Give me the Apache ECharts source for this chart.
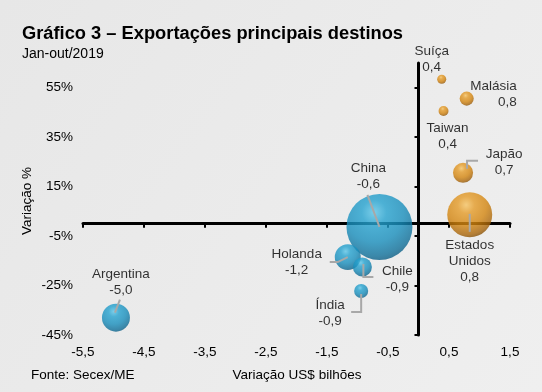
<!DOCTYPE html>
<html><head><meta charset="utf-8">
<script src="https://cdn.jsdelivr.net/npm/echarts@6/dist/echarts.min.js"></script>
<style>html,body{margin:0;padding:0;background:#ebebeb}#c{width:542px;height:392px}</style>
</head><body><div id="c"></div>
<script>
// ---- data ----
const countries   = ['Suíça','Malásia','Taiwan','Japão','Estados Unidos','China','Holanda','Chile','Índia','Argentina'];
const variationUSD = [0.38, 0.79, 0.41, 0.73, 0.84, -0.64, -1.16, -0.92, -0.94, -4.96]; // US$ bilhões
const variationPct = [58.4, 50.6, 45.6, 20.6, 3.6, -1.3, -13.5, -17.5, -27.2, -38.0];  // %
const exportsBn    = [1.0, 2.4, 1.2, 4.9, 24.6, 53.0, 8.2, 4.4, 2.4, 9.5];            // bubble size
const xTickValues  = [-5.5, -4.5, -3.5, -2.5, -1.5, -0.5, 0.5, 1.5];
const yTickValues  = [-45, -25, -5, 15, 35, 55];

// ---- layout / style (pixels) ----
const FONT = '"Liberation Sans", Arial, sans-serif';
const labelOffsets = {
  'Suíça':[-10,-20], 'Malásia':[50,-4], 'Taiwan':[4,25], 'Japão':[41,-11],
  'Estados Unidos':[0,46], 'China':[-11,-51], 'Holanda':[-51,5], 'Chile':[35,12],
  'Índia':[-31,22], 'Argentina':[5,-35]
};
const leaderPaths = {
  'China':[[-12,-32],[0,0]],
  'Holanda':[[-18,5],[-10,5],[0,0]],
  'Chile':[[1,-3],[1,10],[11,10]],
  'Índia':[[0,3],[0,21],[-10,21]],
  'Japão':[[4,-4],[4,-12],[15,-12]],
  'Estados Unidos':[[0,-1],[0,17]],
  'Argentina':[[4,-18],[-1,-5]]
};
const blueBall = {type:'radial',x:0.42,y:0.28,r:0.75,colorStops:[
  {offset:0,color:'#5ec6e8'},{offset:0.25,color:'#25a2cf'},{offset:0.6,color:'#188ebc'},{offset:0.88,color:'#0f6f99'},{offset:1,color:'#0b5a80'}]};
const orangeBall = {type:'radial',x:0.42,y:0.28,r:0.75,colorStops:[
  {offset:0,color:'#f6c464'},{offset:0.25,color:'#e49b28'},{offset:0.6,color:'#d3850f'},{offset:0.88,color:'#a8650a'},{offset:1,color:'#7f4b03'}]};
const maxSize = Math.max(...exportsBn);
const fmtNum = v => v.toFixed(1).replace('.', ',');

const chart = echarts.init(document.getElementById('c'));
const scatterData = countries.map((c,i)=>({
  name:c, value:[variationUSD[i], variationPct[i], exportsBn[i]],
  itemStyle:{color: variationUSD[i] < 0 ? blueBall : orangeBall},
  label:{offset: labelOffsets[c], align: c==='Malásia' ? 'right' : 'center'}
}));

chart.setOption({
  animation:false,
  backgroundColor:{type:'linear',x:0,y:0,x2:1,y2:1,colorStops:[{offset:0,color:'#e7e7e7'},{offset:1,color:'#efefef'}]},
  grid:{left:83,right:32,top:63,bottom:57},
  xAxis:[
    {type:'value',min:-5.5,max:1.5,interval:1,position:'bottom',
     axisLine:{show:false,onZero:false},axisTick:{show:false},splitLine:{show:false},
     axisLabel:{customValues:xTickValues,formatter:fmtNum,fontSize:13.5,color:'#000',fontFamily:FONT,margin:10}},
    {type:'value',min:-5.5,max:1.5,interval:1,position:'bottom',
     axisLine:{show:true,onZero:true,onZeroAxisIndex:0,lineStyle:{color:'#000',width:3}},
     axisTick:{show:true,customValues:xTickValues,length:4,lineStyle:{color:'#000',width:2}},
     axisLabel:{show:false},splitLine:{show:false}}
  ],
  yAxis:[
    {type:'value',min:-45,max:65,interval:20,position:'left',
     axisLine:{show:false,onZero:false},axisTick:{show:false},splitLine:{show:false},
     axisLabel:{customValues:yTickValues,showMaxLabel:true,showMinLabel:true,formatter:v=>v+'%',fontSize:13.5,color:'#000',fontFamily:FONT,margin:10}},
    {type:'value',min:-45,max:65,interval:20,position:'left',
     axisLine:{show:true,onZero:true,onZeroAxisIndex:0,lineStyle:{color:'#000',width:3}},
     axisTick:{show:true,customValues:yTickValues,length:4,lineStyle:{color:'#000',width:2}},
     axisLabel:{show:false},splitLine:{show:false}}
  ],
  graphic:[
    {type:'text',x:22,y:33.5,style:{text:'Gráfico 3 – Exportações principais destinos',font:'bold 18.3px '+FONT,fill:'#000',align:'left',verticalAlign:'middle'}},
    {type:'text',x:22,y:54,style:{text:'Jan-out/2019',font:'14px '+FONT,fill:'#000',align:'left',verticalAlign:'middle'}},
    {type:'text',x:27,y:201,rotation:Math.PI/2,style:{text:'Variação %',font:'13.5px '+FONT,fill:'#000',align:'center',verticalAlign:'middle'}},
    {type:'text',x:297,y:375,style:{text:'Variação US$ bilhões',font:'13.5px '+FONT,fill:'#000',align:'center',verticalAlign:'middle'}},
    {type:'text',x:31,y:375,style:{text:'Fonte: Secex/ME',font:'13.5px '+FONT,fill:'#000',align:'left',verticalAlign:'middle'}}
  ],
  series:[
    {type:'scatter',xAxisIndex:0,yAxisIndex:0,z:2,
     symbolSize: v => 66*Math.sqrt(v[2]/maxSize),
     data:scatterData,
     label:{show:true,position:'inside',color:'#000',fontSize:13.5,lineHeight:16,fontFamily:FONT,
       formatter:p=>p.name.replace(' ','\n')+'\n'+fmtNum(p.value[0])}},
    {type:'custom',xAxisIndex:0,yAxisIndex:0,z:3,silent:true,
     data:countries.map((c,i)=>[variationUSD[i],variationPct[i],i]),
     renderItem:(params,api)=>{
       const name = countries[api.value(2)];
       const path = leaderPaths[name];
       if(!path) return null;
       const p = api.coord([api.value(0),api.value(1)]);
       return {type:'polyline',shape:{points:path.map(d=>[p[0]+d[0],p[1]+d[1]])},
               style:{stroke:'#a8a8a8',lineWidth:2,fill:null}};
     }}
  ]
});
</script></body></html>
